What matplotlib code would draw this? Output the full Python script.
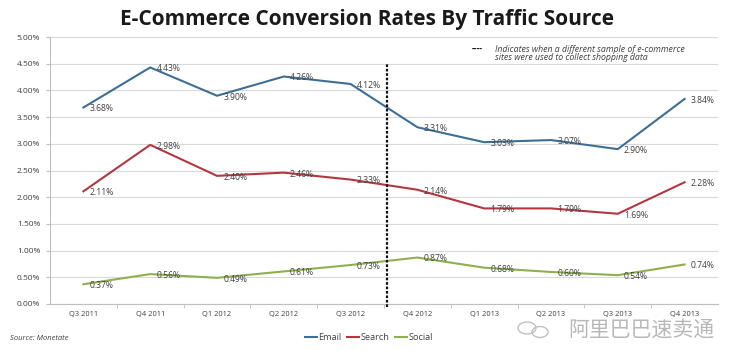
import numpy as np
from matplotlib import pyplot as plt
from matplotlib.lines import Line2D
from matplotlib.patches import Ellipse

quarters = ["Q3 2011", "Q4 2011", "Q1 2012", "Q2 2012", "Q3 2012",
            "Q4 2012", "Q1 2013", "Q2 2013", "Q3 2013", "Q4 2013"]
email = [3.68, 4.43, 3.90, 4.26, 4.12, 3.31, 3.03, 3.07, 2.90, 3.84]
search = [2.11, 2.98, 2.40, 2.46, 2.33, 2.14, 1.79, 1.79, 1.69, 2.28]
social = [0.37, 0.56, 0.49, 0.61, 0.73, 0.87, 0.68, 0.60, 0.54, 0.74]
y_ticks = [0.0, 0.5, 1.0, 1.5, 2.0, 2.5, 3.0, 3.5, 4.0, 4.5, 5.0]

plt.rcParams['font.family'] = ['Open Sans', 'Noto Sans CJK SC', 'DejaVu Sans']

colors = {"Email": "#3d6f95", "Search": "#b3373f", "Social": "#8fb04e"}
text_col = "#404040"

fig = plt.figure(figsize=(7.5, 3.5), dpi=100)
ax = fig.add_axes([50 / 750, 1 - 304 / 350, 668 / 750, 267 / 350])

x = np.arange(len(quarters))
for name, vals in [("Email", email), ("Search", search), ("Social", social)]:
	ax.plot(x, vals, color=colors[name], lw=1.5, label=name, zorder=3)
	for xi, v in zip(x, vals):
		ax.annotate("%.2f%%" % v, (xi, v), xytext=(4.5, -1), textcoords="offset points",
					ha="left", va="center", fontsize=6.2, color=text_col, zorder=4)

# break in sample between Q3 2012 and Q4 2012
ax.plot([4.55, 4.55], [-0.06, 4.5], color="#111111", lw=1.6,
		linestyle=(0, (1.2, 0.8)), zorder=5, clip_on=False)

ax.set_xlim(-0.5, len(quarters) - 0.5)
ax.set_ylim(0, 5.0)
ax.set_xticks(x)
ax.set_xticklabels(quarters, fontsize=5.4, color=text_col)
ax.set_xticks(np.arange(0.5, len(quarters) - 1, 1.0), minor=True)
ax.set_yticks(y_ticks)
ax.set_yticklabels(["%.2f%%" % t for t in y_ticks], fontsize=6, color=text_col)
ax.tick_params(axis="x", which="major", length=0, pad=5)
ax.tick_params(axis="x", which="minor", length=3, color="#bfbfbf")
ax.tick_params(axis="y", length=3, color="#bfbfbf", pad=4)
ax.grid(axis="y", color="#d9d9d9", lw=0.8)
ax.set_axisbelow(True)
for s in ["top", "right"]:
	ax.spines[s].set_visible(False)
for s in ["left", "bottom"]:
	ax.spines[s].set_color("#bfbfbf")
	ax.spines[s].set_linewidth(0.8)

fig.text(0.49, 1 - 20 / 350, "E-Commerce Conversion Rates By Traffic Source",
		 ha="center", va="center", fontsize=15, fontweight="bold", color="#1a1a1a")

fig.text(472 / 750, 1 - 49 / 350, "----", ha="left", va="center", fontsize=6,
		 color="#111111", fontweight="bold")
fig.text(495 / 750, 1 - 53.5 / 350,
		 "Indicates when a different sample of e-commerce\nsites were used to collect shopping data",
		 ha="left", va="center", fontsize=6.3, style="italic", color=text_col, linespacing=1.0)

handles = [Line2D([], [], color=colors[n], lw=1.5) for n in ["Email", "Search", "Social"]]
fig.legend(handles, ["Email", "Search", "Social"], loc="center",
		   bbox_to_anchor=(369 / 750, 1 - 338 / 350), ncol=3, frameon=False,
		   fontsize=6.6, handlelength=1.3, handletextpad=0.2, columnspacing=0.6,
		   labelcolor=text_col)

fig.text(10 / 750, 1 - 339 / 350, "Source: Monetate", ha="left", va="center",
		 fontsize=5.5, style="italic", color=text_col)

# watermark
fig.text(641 / 750, 1 - 330 / 350, "阿里巴巴速卖通", ha="center", va="center",
		 fontsize=15, color="#b8b8b8")
fig.patches.append(Ellipse((527 / 750, 1 - 328 / 350), 18 / 750, 12 / 350,
						   transform=fig.transFigure, fill=False, ec="#c0c0c0", lw=1))
fig.patches.append(Ellipse((540 / 750, 1 - 332 / 350), 16 / 750, 11 / 350,
						   transform=fig.transFigure, fill=False, ec="#c0c0c0", lw=1))

fig.savefig("out.png", dpi=100, facecolor="white")
